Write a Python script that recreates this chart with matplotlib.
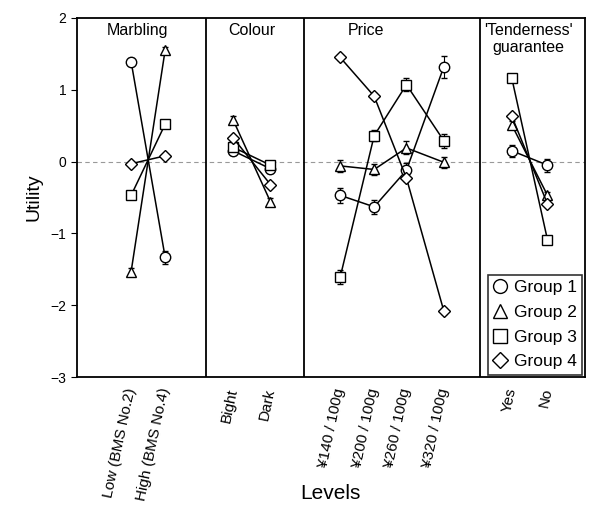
import numpy as np
import matplotlib.pyplot as plt
from matplotlib.lines import Line2D

plt.rcParams['font.family'] = ['Liberation Sans', 'DejaVu Sans']

# attributes and their levels
attributes = ['Marbling', 'Colour', 'Price', "'Tenderness'\nguarantee"]
n_levels = [2, 2, 4, 2]
levels = ['Low (BMS No.2)', 'High (BMS No.4)', 'Bight', 'Dark',
          '¥140 / 100g', '¥200 / 100g', '¥260 / 100g', '¥320 / 100g',
          'Yes', 'No']

# utilities per group (same order as levels)
group1 = [1.39, -1.33, 0.15, -0.10, -0.47, -0.63, -0.12, 1.32, 0.15, -0.05]
group2 = [-1.53, 1.55, 0.58, -0.56, -0.06, -0.11, 0.19, -0.01, 0.51, -0.47]
group3 = [-0.47, 0.52, 0.20, -0.05, -1.61, 0.36, 1.07, 0.29, 1.16, -1.09]
group4 = [-0.03, 0.08, 0.33, -0.32, 1.45, 0.91, -0.23, -2.08, 0.63, -0.59]

# standard errors (small, mostly hidden behind markers)
err1 = [0.05, 0.09, 0.06, 0.06, 0.10, 0.10, 0.10, 0.15, 0.08, 0.09]
err2 = [0.05, 0.05, 0.05, 0.05, 0.08, 0.07, 0.09, 0.08, 0.05, 0.05]
err3 = [0.05, 0.05, 0.05, 0.05, 0.10, 0.08, 0.09, 0.10, 0.05, 0.05]
err4 = [0.03, 0.03, 0.03, 0.03, 0.04, 0.04, 0.04, 0.04, 0.03, 0.03]

groups = ['Group 1', 'Group 2', 'Group 3', 'Group 4']
markers = ['o', '^', 's', 'D']

# layout of level positions and panel dividers
xpos = [1.6, 2.6, 4.6, 5.7, 7.75, 8.75, 9.7, 10.8, 12.8, 13.85]
dividers = [3.8, 6.7, 11.85]
xmax = 14.95
title_x = [1.8, 5.15, 8.5, 13.3]

fig = plt.figure(figsize=(5.95, 5.11), dpi=100)
ax = fig.add_axes([0.129, 0.262, 0.854, 0.703])

ax.axhline(0, color='0.6', ls=(0, (4, 3)), lw=0.8, zorder=0)

data = [group1, group2, group3, group4]
errs = [err1, err2, err3, err4]
for g in range(4):
    start = 0
    for n in n_levels:
        sl = slice(start, start + n)
        ax.errorbar(xpos[sl], data[g][sl], yerr=errs[g][sl], color='black',
                    lw=1.1, marker=markers[g], ms=7.5 if markers[g] != 'D' else 6.5,
                    mfc='white', mec='black', mew=1.0, capsize=2, elinewidth=0.8)
        start += n

for d in dividers:
    ax.axvline(d, color='black', lw=1.3)

for t, xt in zip(attributes, title_x):
    ax.text(xt, 1.93, t, ha='center', va='top', fontsize=11.5, linespacing=1.2)

ax.set_xlim(0, xmax)
ax.set_ylim(-3, 2)
ax.set_yticks([-3, -2, -1, 0, 1, 2])
ax.tick_params(axis='y', labelsize=10, length=4)
ax.set_xticks(xpos)
ax.set_xticklabels(levels, rotation=78, ha='right', va='center',
                   rotation_mode='anchor', fontsize=11)
ax.tick_params(axis='x', length=0, pad=8)
for s in ax.spines.values():
    s.set_linewidth(1.3)

ax.set_ylabel('Utility', fontsize=14, labelpad=6)
fig.text(330 / 595, 1 - 493 / 511, 'Levels', ha='center', va='center', fontsize=15)

handles = [Line2D([], [], ls='none', marker=m, ms=10 if m != 'D' else 8.5,
                  mfc='white', mec='black', mew=1.0) for m in markers]
leg = ax.legend(handles, groups, loc='lower right', fontsize=12.5, frameon=True,
                fancybox=False, edgecolor='black', handlelength=0.8,
                handletextpad=0.4, borderpad=0.3, labelspacing=0.55,
                borderaxespad=0.15)
leg.get_frame().set_linewidth(1.2)

fig.savefig('out.png', dpi=100)
